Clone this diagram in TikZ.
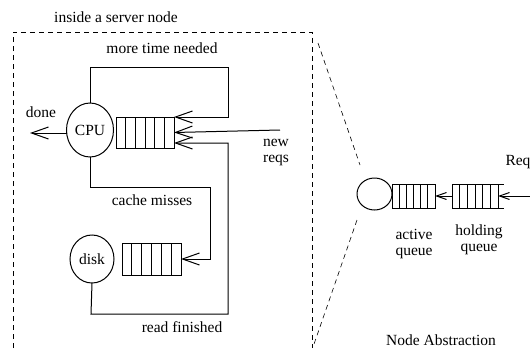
\documentclass[tikz,border=0pt]{standalone}
\usepackage{fontspec}
\setmainfont{Liberation Serif}
\usetikzlibrary{arrows.meta,shapes.geometric}

% dividers of a queue: node, width, number of inner lines
\newcommand{\qlines}[3]{%
	\foreach \k in {1,...,#3}
		\draw ([xshift=\k*#2/(#3+1)]#1.south west) -- ([xshift=\k*#2/(#3+1)]#1.north west);}

\tikzset{
	unit/.style={draw, ellipse, inner sep=0pt, outer sep=0pt},
	queue/.style={draw, rectangle, inner sep=0pt, outer sep=0pt},
	flow/.style={-{Straight Barb[length=17pt,width=12pt]}},
	smallflow/.style={-{Straight Barb[length=10pt,width=7pt]}},
	border/.style={line width=0.6pt, dash pattern=on 5pt off 4pt},
}

\begin{document}
\begin{tikzpicture}[x=1pt, y=-1pt, line width=1pt, line join=miter,
	font=\fontsize{15.5}{16}\selectfont]
				\useasboundingbox (0,0) rectangle (530,348);
				% server node outline and the zoom lines
				\draw[border] (13,348) -- (13,32) -- (312,32) -- (312,348);
				\draw[border] (318,43) -- (360,165);
				\draw[border] (357,220) -- (313,347);
				\node at (116,17) {inside a server node};
				% cpu and its queue
				\node[unit, minimum width=47pt, minimum height=54pt] (cpu) at (90,130) {CPU};
				\node[queue, minimum width=58pt, minimum height=31pt] (cpuq) at (145,132.5) {};
				\qlines{cpuq}{58}{5}
				% disk and its queue
				\node[unit, minimum width=44pt, minimum height=48pt] (disk) at (92,259) {disk};
				\node[queue, minimum width=59pt, minimum height=32pt] (diskq) at (151.5,259) {};
				\qlines{diskq}{59}{5}
				\path 
				(90,67) coordinate (T1)
				(228,67) coordinate (T2)
				(228,117) coordinate (T3)
				(280,130) coordinate (N)
				(228,143) coordinate (R1)
				(228,314) coordinate (R2)
				(91,314) coordinate (R3)
				(90,187) coordinate (C1)
				(210,187) coordinate (C2)
				(210,259) coordinate (C3)
				(30,133) coordinate (D)
				;
				\draw[flow] (cpu.north) -- (T1) -- (T2) -- (T3) -- (cpuq.north east);
				\draw[flow] (N) -- (cpuq.east);
				\draw[flow] (disk.south) -- (R3) -- (R2) -- (R1) -- (cpuq.south east |- R1);
				\draw[flow] (cpu.south) -- (C1) -- (C2) -- (C3) -- (diskq.east);
				\draw[flow] (cpu.west |- D) -- (D);
				\node at (162,48) {more time needed};
				\node at (41,112) {done};
				\node[align=center] at (276,152) {new\\reqs};
				\node at (152,200) {cache misses};
				\node at (182,327) {read finished};
				% abstract node
				\node[unit, minimum width=35pt, minimum height=32pt] (srv) at (374.5,194) {};
				\node[queue, minimum width=43pt, minimum height=24pt] (actq) at (413.5,196) {};
				\qlines{actq}{43}{5}
				\node[queue, minimum width=46pt, minimum height=24pt] (holdq) at (475,196) {};
				\qlines{holdq}{46}{5}
				\draw (holdq.north east) -- ++(6,0) (holdq.south east) -- ++(6,0);
				\coordinate (In) at (530,196);
				\draw[smallflow] (holdq.west) -- (actq.east);
				\draw[smallflow] (In) -- (holdq.east);
				\node[anchor=west, inner sep=0pt] at (505,162) {Req};
				\node[align=center] at (414,244) {active\\queue};
				\node[align=center] at (479,240) {holding\\queue};
				\node at (441,340) {Node Abstraction};
			\end{tikzpicture}
\end{document}
